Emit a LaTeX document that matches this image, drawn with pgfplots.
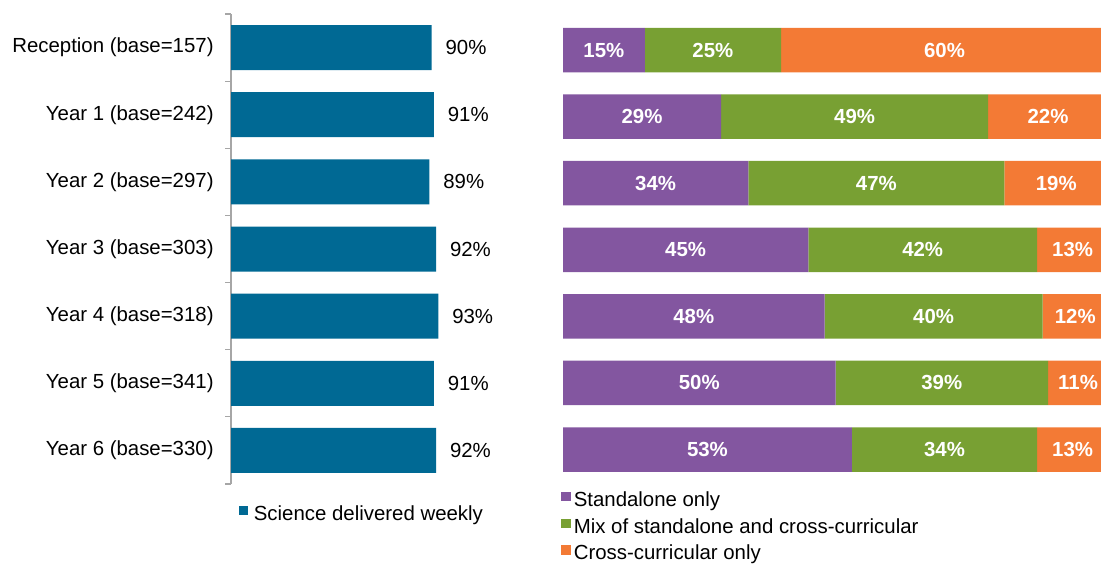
\documentclass[border=0pt]{standalone}
\usepackage{pgfplots}
\pgfplotsset{compat=1.18}
\usepackage{pgfplotstable}
\usepackage{fontspec}
\setmainfont{Liberation Sans}
\definecolor{cblue}{HTML}{006994}
\definecolor{cpurple}{HTML}{8356A0}
\definecolor{cgreen}{HTML}{78A033}
\definecolor{corange}{HTML}{F37A35}
\definecolor{caxis}{HTML}{A6A6A6}
\pgfplotstableread{
row left stand mix cross
0 90 15 25 60
1 91 29 49 22
2 89 34 47 19
3 92 45 42 13
4 93 48 40 12
5 91 50 39 11
6 92 53 34 13
}\datatable
\pgfplotsset{
  legsq/.style={
    legend image code/.code={\fill[##1,draw=none] (0pt,0pt) rectangle (4.6pt,4.6pt);},
  },
}
\begin{document}
\fontsize{10.2pt}{12pt}\selectfont
\begin{tikzpicture}
% left panel
\begin{axis}[
  at={(115.5pt,39.5pt)}, anchor=south west,
  scale only axis, width=111.5pt, height=235pt,
  xmin=0, xmax=100, ymin=-0.5, ymax=6.5, y dir=reverse,
  axis x line=none, axis y line*=left,
  y axis line style={caxis, line width=0.6pt},
  ytick={0,...,6},
  yticklabels={{Reception (base=157)},{Year 1 (base=242)},{Year 2 (base=297)},{Year 3 (base=303)},{Year 4 (base=318)},{Year 5 (base=341)},{Year 6 (base=330)}},
  major tick length=0pt,
  minor ytick={-0.5,0.5,...,6.5},
  minor tick length=3pt,
  tick align=outside,
  minor tick style={caxis, line width=0.6pt},
  yticklabel style={inner sep=0pt, anchor=east, xshift=-8.5pt},
  xbar, bar width=22.5pt,
  /pgf/number format/assume math mode=true,
  point meta=x,
  nodes near coords={\pgfmathprintnumber{\pgfplotspointmeta}\%},
  every node near coord/.append style={anchor=west, inner sep=0pt, xshift=6.75pt, text=black},
  legsq,
  legend style={at={(rel axis cs:0.0327,-0.0447)}, anchor=north west, draw=none, fill=none, inner sep=0pt,
    nodes={inner sep=0pt, text height=7.5pt, text depth=2.2pt},
    /tikz/every odd column/.append style={column sep=3pt}},
]
\addplot[fill=cblue, draw=none] table[x=left,y=row]{\datatable};
\legend{Science delivered weekly}
\end{axis}
% right panel: stacked bars
\begin{axis}[
  at={(281.5pt,40.1pt)}, anchor=south west,
  scale only axis, width=272.5pt, height=233pt,
  xmin=0, xmax=100, ymin=-0.5, ymax=6.5, y dir=reverse,
  hide axis,
  xbar stacked, bar width=22.25pt,
  legsq,
  legend style={at={(rel axis cs:-0.0037,-0.0176)}, anchor=north west, draw=none, fill=none, inner sep=0pt,
    row sep=3.65pt,
    nodes={inner sep=0pt, text height=7.5pt, text depth=2.2pt},
    /tikz/every odd column/.append style={column sep=1.6pt}},
  legend cell align=left,
]
\addplot[fill=cpurple, draw=none] table[x=stand,y=row]{\datatable};
\addplot[fill=cgreen, draw=none] table[x=mix,y=row]{\datatable};
\addplot[fill=corange, draw=none] table[x=cross,y=row]{\datatable};
\legend{Standalone only, Mix of standalone and cross-curricular, Cross-curricular only}
\end{axis}
% right panel: segment labels
\begin{axis}[
  at={(281.5pt,40.1pt)}, anchor=south west,
  scale only axis, width=272.5pt, height=233pt,
  xmin=0, xmax=100, ymin=-0.5, ymax=6.5, y dir=reverse,
  hide axis,
  /pgf/number format/assume math mode=true,
  nodes near coords={\pgfmathprintnumber{\pgfplotspointmeta}\%},
  nodes near coords align=center,
  every node near coord/.append style={anchor=center, inner sep=0pt, text=white, font=\bfseries},
]
\addplot[draw=none, mark=none, point meta=\thisrow{stand}] table[x expr=\thisrow{stand}/2, y=row]{\datatable};
\addplot[draw=none, mark=none, point meta=\thisrow{mix}] table[x expr=\thisrow{stand}+\thisrow{mix}/2, y=row]{\datatable};
\addplot[draw=none, mark=none, point meta=\thisrow{cross}] table[x expr=\thisrow{stand}+\thisrow{mix}+\thisrow{cross}/2, y=row]{\datatable};
\end{axis}
\pgfresetboundingbox
\path[use as bounding box] (0,0) rectangle (550.5pt,281.5pt);
\end{tikzpicture}
\end{document}
